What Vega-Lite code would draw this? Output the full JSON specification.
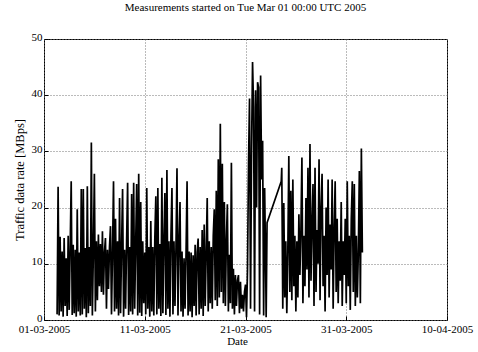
{
  "$schema": "https://vega.github.io/schema/vega-lite/v6.json",
  "autosize": "none",
  "width": 403,
  "height": 281,
  "padding": {"left": 44, "top": 39, "right": 31, "bottom": 32},
  "background": "white",
  "config": {
    "font": "Liberation Serif",
    "view": {"stroke": "black", "strokeWidth": 1},
    "axis": {
      "labelFont": "Liberation Serif", "titleFont": "Liberation Serif",
      "labelFontSize": 11, "titleFontSize": 11, "titleFontWeight": "normal",
      "labelColor": "black", "titleColor": "black",
      "domain": false, "tickColor": "black", "tickSize": -4,
      "gridColor": "#777777", "gridDash": [1, 2], "gridWidth": 1
    }
  },
  "title": {
    "text": "Measurements started on Tue Mar 01 00:00 UTC 2005",
    "font": "Liberation Serif", "fontSize": 11, "fontWeight": "normal",
    "color": "black", "anchor": "middle", "offset": 18
  },
  "data": {"values": [
    {"d":1.3,"v":1.0},{"d":1.4,"v":23.7},{"d":1.5,"v":0.8},{"d":1.6,"v":14.8},{"d":1.7,"v":1.5},{"d":1.8,"v":12.2},{"d":1.9,"v":0.6},{"d":2.0,"v":14.6},
    {"d":2.1,"v":2.5},{"d":2.2,"v":11.0},{"d":2.3,"v":0.7},{"d":2.4,"v":15.0},{"d":2.5,"v":1.8},{"d":2.6,"v":13.0},{"d":2.7,"v":24.7},{"d":2.8,"v":0.9},
    {"d":2.9,"v":13.4},{"d":3.0,"v":1.2},{"d":3.1,"v":12.5},{"d":3.2,"v":0.6},{"d":3.3,"v":19.7},{"d":3.4,"v":1.5},{"d":3.5,"v":12.0},{"d":3.6,"v":0.8},
    {"d":3.7,"v":23.3},{"d":3.8,"v":1.0},{"d":3.9,"v":23.3},{"d":4.0,"v":2.0},{"d":4.1,"v":12.8},{"d":4.2,"v":0.5},{"d":4.3,"v":23.8},{"d":4.4,"v":1.2},
    {"d":4.5,"v":13.0},{"d":4.6,"v":2.5},{"d":4.7,"v":31.6},{"d":4.8,"v":0.8},{"d":4.9,"v":12.0},{"d":5.0,"v":26.0},{"d":5.1,"v":1.5},{"d":5.2,"v":14.0},
    {"d":5.3,"v":3.5},{"d":5.4,"v":15.2},{"d":5.5,"v":6.0},{"d":5.6,"v":13.5},{"d":5.7,"v":5.0},{"d":5.8,"v":15.8},{"d":5.9,"v":4.5},{"d":6.0,"v":12.0},
    {"d":6.1,"v":14.6},{"d":6.2,"v":2.0},{"d":6.3,"v":12.5},{"d":6.4,"v":5.5},{"d":6.5,"v":13.0},{"d":6.6,"v":16.7},{"d":6.7,"v":1.0},{"d":6.8,"v":12.0},
    {"d":6.9,"v":24.7},{"d":7.0,"v":1.5},{"d":7.1,"v":18.0},{"d":7.2,"v":2.0},{"d":7.3,"v":14.0},{"d":7.4,"v":0.8},{"d":7.5,"v":21.7},{"d":7.6,"v":1.2},
    {"d":7.7,"v":13.0},{"d":7.8,"v":23.3},{"d":7.9,"v":0.6},{"d":8.0,"v":12.5},{"d":8.1,"v":2.0},{"d":8.2,"v":14.0},{"d":8.3,"v":24.4},{"d":8.4,"v":0.9},
    {"d":8.5,"v":13.0},{"d":8.6,"v":1.5},{"d":8.7,"v":22.4},{"d":8.8,"v":1.0},{"d":8.9,"v":24.4},{"d":9.0,"v":2.0},{"d":9.1,"v":13.5},{"d":9.2,"v":24.2},
    {"d":9.3,"v":0.8},{"d":9.4,"v":26.0},{"d":9.5,"v":1.3},{"d":9.6,"v":21.0},{"d":9.7,"v":0.7},{"d":9.8,"v":14.0},{"d":9.9,"v":3.0},{"d":10.0,"v":12.0},
    {"d":10.1,"v":1.0},{"d":10.2,"v":23.5},{"d":10.3,"v":2.0},{"d":10.4,"v":13.0},{"d":10.5,"v":0.6},{"d":10.6,"v":17.6},{"d":10.7,"v":1.5},{"d":10.8,"v":13.0},
    {"d":10.9,"v":0.8},{"d":11.0,"v":14.5},{"d":11.1,"v":22.0},{"d":11.2,"v":1.0},{"d":11.3,"v":23.5},{"d":11.4,"v":2.0},{"d":11.5,"v":13.5},{"d":11.6,"v":0.7},
    {"d":11.7,"v":25.3},{"d":11.8,"v":1.2},{"d":11.9,"v":14.0},{"d":12.0,"v":22.6},{"d":12.1,"v":0.9},{"d":12.2,"v":26.7},{"d":12.3,"v":2.0},{"d":12.4,"v":14.0},
    {"d":12.5,"v":0.6},{"d":12.6,"v":15.0},{"d":12.7,"v":23.5},{"d":12.8,"v":1.0},{"d":12.9,"v":14.0},{"d":13.0,"v":2.5},{"d":13.1,"v":13.0},{"d":13.2,"v":27.0},
    {"d":13.3,"v":0.8},{"d":13.4,"v":14.0},{"d":13.5,"v":21.0},{"d":13.6,"v":1.5},{"d":13.7,"v":12.2},{"d":13.8,"v":0.6},{"d":13.9,"v":11.0},{"d":14.0,"v":2.0},
    {"d":14.1,"v":12.0},{"d":14.2,"v":24.7},{"d":14.3,"v":0.8},{"d":14.4,"v":12.2},{"d":14.5,"v":1.5},{"d":14.6,"v":12.0},{"d":14.7,"v":0.5},{"d":14.8,"v":11.5},
    {"d":14.9,"v":2.5},{"d":15.0,"v":13.4},{"d":15.1,"v":0.8},{"d":15.2,"v":12.0},{"d":15.3,"v":14.5},{"d":15.4,"v":1.0},{"d":15.5,"v":13.0},{"d":15.6,"v":2.0},
    {"d":15.7,"v":16.0},{"d":15.8,"v":0.7},{"d":15.9,"v":17.0},{"d":16.0,"v":2.5},{"d":16.1,"v":12.0},{"d":16.2,"v":21.7},{"d":16.3,"v":1.5},{"d":16.4,"v":14.0},
    {"d":16.5,"v":3.0},{"d":16.6,"v":13.0},{"d":16.7,"v":2.0},{"d":16.8,"v":15.0},{"d":16.9,"v":19.7},{"d":17.0,"v":3.5},{"d":17.1,"v":23.0},{"d":17.2,"v":2.5},
    {"d":17.3,"v":28.6},{"d":17.4,"v":4.0},{"d":17.5,"v":34.9},{"d":17.6,"v":5.0},{"d":17.7,"v":27.8},{"d":17.8,"v":3.0},{"d":17.9,"v":21.0},{"d":18.0,"v":2.5},
    {"d":18.1,"v":14.0},{"d":18.2,"v":20.6},{"d":18.3,"v":1.5},{"d":18.4,"v":11.6},{"d":18.5,"v":3.0},{"d":18.6,"v":28.0},{"d":18.7,"v":2.0},{"d":18.8,"v":9.1},
    {"d":18.9,"v":1.0},{"d":19.0,"v":8.0},{"d":19.1,"v":2.5},{"d":19.2,"v":7.0},{"d":19.3,"v":8.0},{"d":19.4,"v":1.2},{"d":19.5,"v":6.8},{"d":19.6,"v":2.0},
    {"d":19.7,"v":4.5},{"d":19.8,"v":1.5},{"d":19.9,"v":5.0},{"d":20.0,"v":6.3},{"d":20.1,"v":0.5},{"d":20.2,"v":9.0},{"d":20.3,"v":27.8},{"d":20.4,"v":39.4},
    {"d":20.5,"v":2.0},{"d":20.6,"v":30.0},{"d":20.7,"v":45.9},{"d":20.8,"v":37.9},{"d":20.9,"v":1.5},{"d":21.0,"v":40.9},{"d":21.1,"v":20.0},{"d":21.2,"v":42.3},
    {"d":21.3,"v":41.4},{"d":21.4,"v":1.0},{"d":21.5,"v":43.5},{"d":21.6,"v":25.0},{"d":21.7,"v":31.9},{"d":21.8,"v":0.8},{"d":21.9,"v":23.5},{"d":22.0,"v":10.0},
    {"d":22.05,"v":0.5},{"d":22.14,"v":17.3},
    {"d":23.55,"v":24.7},{"d":23.6,"v":27.1},{"d":23.7,"v":2.0},{"d":23.8,"v":20.8},{"d":23.9,"v":4.0},{"d":24.0,"v":14.0},{"d":24.1,"v":1.2},{"d":24.2,"v":12.0},
    {"d":24.3,"v":29.2},{"d":24.4,"v":5.0},{"d":24.5,"v":23.0},{"d":24.6,"v":3.5},{"d":24.7,"v":25.0},{"d":24.8,"v":6.0},{"d":24.9,"v":15.0},{"d":25.0,"v":1.5},
    {"d":25.1,"v":14.0},{"d":25.2,"v":4.0},{"d":25.3,"v":18.8},{"d":25.4,"v":8.0},{"d":25.5,"v":16.0},{"d":25.6,"v":28.9},{"d":25.7,"v":3.0},{"d":25.8,"v":15.0},
    {"d":25.9,"v":6.0},{"d":26.0,"v":21.7},{"d":26.1,"v":9.0},{"d":26.2,"v":27.1},{"d":26.3,"v":4.0},{"d":26.4,"v":31.3},{"d":26.5,"v":7.0},{"d":26.6,"v":17.0},
    {"d":26.7,"v":24.2},{"d":26.8,"v":2.5},{"d":26.9,"v":27.1},{"d":27.0,"v":5.0},{"d":27.1,"v":16.0},{"d":27.2,"v":10.0},{"d":27.3,"v":28.6},{"d":27.4,"v":3.5},
    {"d":27.5,"v":20.0},{"d":27.6,"v":26.0},{"d":27.7,"v":6.0},{"d":27.8,"v":15.0},{"d":27.9,"v":1.5},{"d":28.0,"v":20.0},{"d":28.1,"v":8.0},{"d":28.2,"v":25.0},
    {"d":28.3,"v":4.0},{"d":28.4,"v":17.0},{"d":28.5,"v":9.0},{"d":28.6,"v":25.0},{"d":28.7,"v":2.0},{"d":28.8,"v":16.0},{"d":28.9,"v":24.7},{"d":29.0,"v":5.0},
    {"d":29.1,"v":18.0},{"d":29.2,"v":3.0},{"d":29.3,"v":14.0},{"d":29.4,"v":7.0},{"d":29.5,"v":21.0},{"d":29.6,"v":2.5},{"d":29.7,"v":14.0},{"d":29.8,"v":8.0},
    {"d":29.9,"v":18.0},{"d":30.0,"v":3.0},{"d":30.1,"v":24.7},{"d":30.2,"v":6.0},{"d":30.3,"v":15.0},{"d":30.4,"v":1.8},{"d":30.5,"v":18.0},{"d":30.6,"v":24.7},
    {"d":30.7,"v":5.0},{"d":30.8,"v":24.2},{"d":30.9,"v":2.5},{"d":31.0,"v":15.0},{"d":31.1,"v":4.0},{"d":31.2,"v":12.0},{"d":31.3,"v":26.5},{"d":31.4,"v":3.0},
    {"d":31.5,"v":30.5},{"d":31.6,"v":12.0}
  ]},
  "mark": {"type": "line", "color": "black", "strokeWidth": 1.7, "strokeJoin": "bevel", "interpolate": "linear"},
  "encoding": {
    "x": {
      "field": "d", "type": "quantitative",
      "scale": {"domain": [0, 40], "nice": false, "zero": false},
      "axis": {
        "title": "Date", "values": [0, 10, 20, 30, 40], "grid": true,
        "labelExpr": "['01-03-2005','11-03-2005','21-03-2005','31-03-2005','10-04-2005'][round(datum.value/10)]",
        "labelPadding": 7, "titlePadding": 1, "titleX": 193, "labelFlush": false
      }
    },
    "y": {
      "field": "v", "type": "quantitative",
      "scale": {"domain": [0, 50], "nice": false},
      "axis": {
        "title": "Traffic data rate [MBps]", "values": [0, 10, 20, 30, 40, 50], "grid": true,
        "labelPadding": 6, "titlePadding": 5, "titleFontSize": 12.5, "labelOffset": -2
      }
    }
  }
}
